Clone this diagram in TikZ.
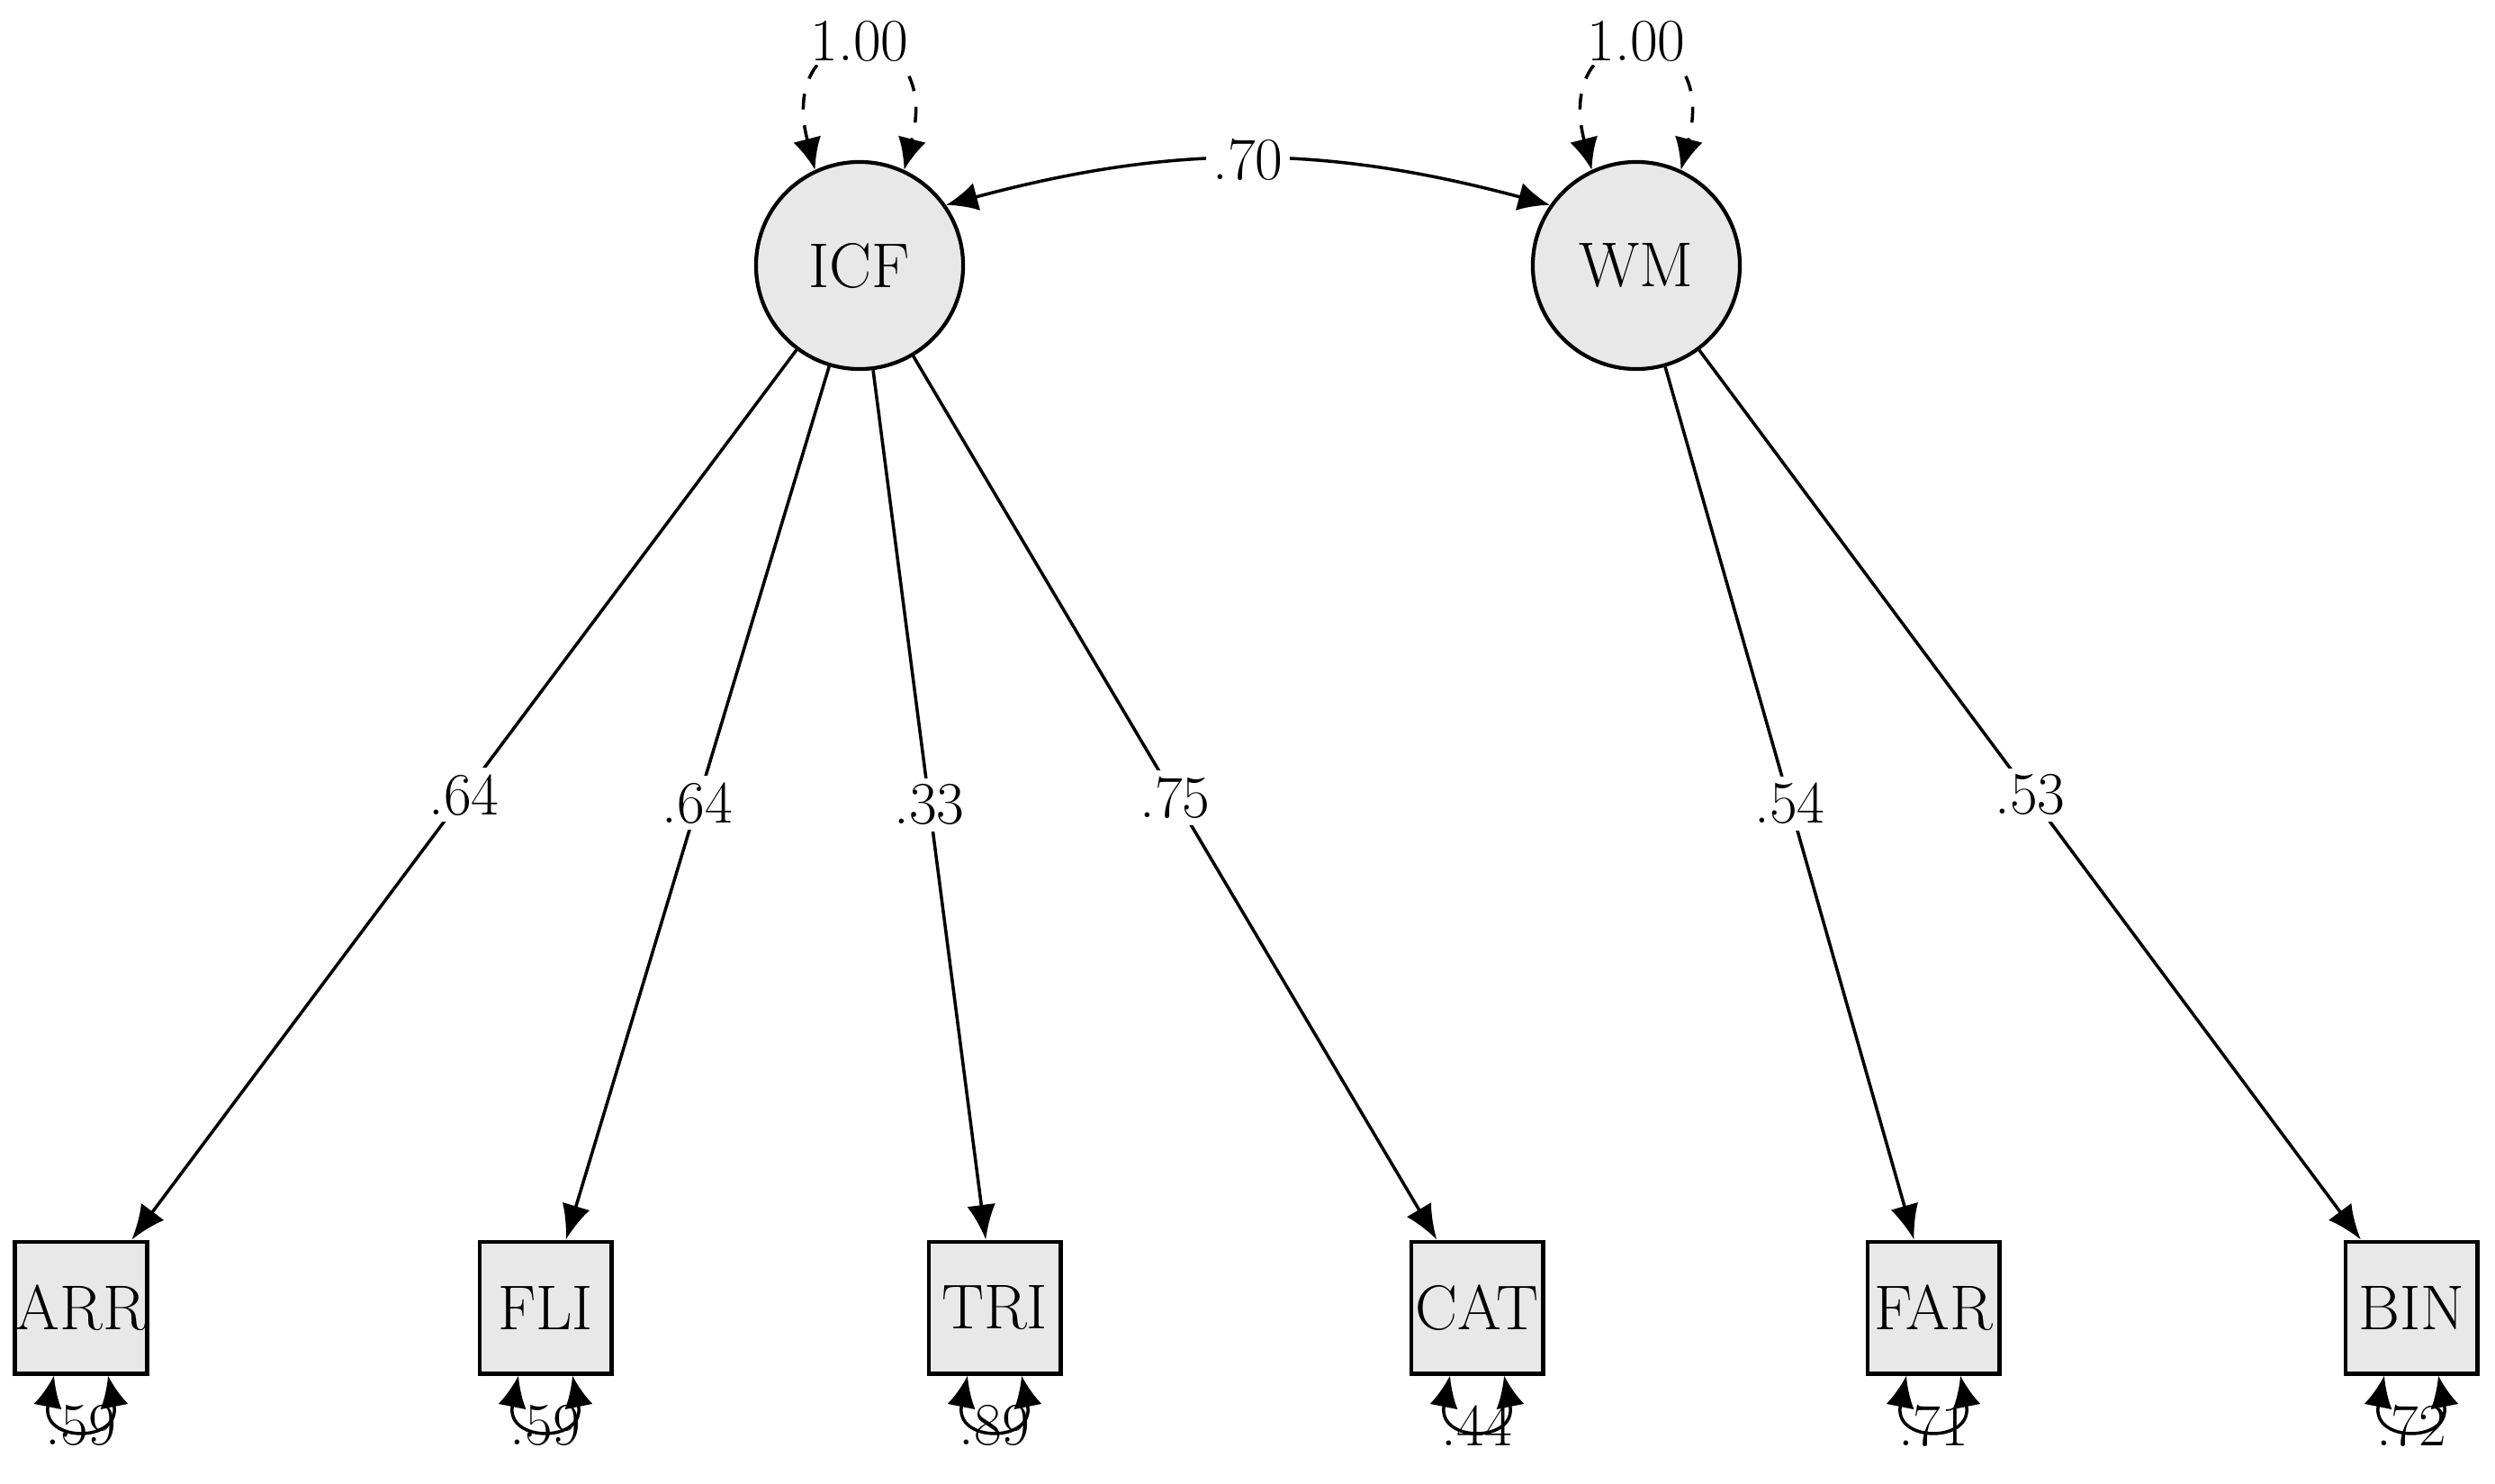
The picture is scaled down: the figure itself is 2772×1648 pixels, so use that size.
\documentclass[tikz,border=0pt]{standalone}
\usepackage{tikz}
\usetikzlibrary{arrows.meta}

\tikzset{
  latent/.style={circle, draw, line width=1.2pt, fill=gray!18, minimum size=2.3cm, inner sep=0pt, font=\fontsize{20}{24}\selectfont},
  manifest/.style={rectangle, draw, line width=1.4pt, fill=gray!18, minimum size=1.46cm, inner sep=0pt, font=\fontsize{20}{24}\selectfont},
  path/.style={line width=1pt, -{Latex[length=11pt,width=9pt]}},
  wlabel/.style={fill=white, inner sep=2pt, font=\fontsize{19}{22}\selectfont},
  var/.style={line width=1pt, {Latex[length=10pt,width=9pt]}-{Latex[length=10pt,width=9pt]}},
}

\begin{document}
\begin{tikzpicture}[x=0.01cm, y=-0.01cm]
\useasboundingbox (0,0) rectangle (2772,1648);

\node[latent] (ICF) at (955,295) {ICF};
\node[latent] (WM) at (1818,295) {WM};

\node[manifest] (ARR) at (90,1453) {ARR};
\node[manifest] (FLI) at (606,1453) {FLI};
\node[manifest] (TRI) at (1105,1453) {TRI};
\node[manifest] (CAT) at (1641,1453) {CAT};
\node[manifest] (FAR) at (2148,1453) {FAR};
\node[manifest] (BIN) at (2679,1453) {BIN};

% loadings
\draw[path] (ICF) -- (ARR) node[wlabel, pos=0.5] {.64};
\draw[path] (ICF) -- (FLI) node[wlabel, pos=0.5] {.64};
\draw[path] (ICF) -- (TRI) node[wlabel, pos=0.5] {.33};
\draw[path] (ICF) -- (CAT) node[wlabel, pos=0.5] {.75};
\draw[path] (WM) -- (FAR) node[wlabel, pos=0.5] {.54};
\draw[path] (WM) -- (BIN) node[wlabel, pos=0.5] {.53};

% covariance
\draw[var] (ICF.35) to[bend left=15] node[wlabel] {.70} (WM.145);

% factor variances
\foreach \f in {ICF, WM}
  \draw[var, dash pattern=on 5pt off 5pt] (\f.115) .. controls +(-45,-175) and +(45,-175) .. (\f.65)
    node[pos=0.5, yshift=0.12cm, fill=white, inner sep=1pt, font=\fontsize{19}{22}\selectfont] {1.00};

% error variances
\foreach \b/\v in {ARR/.59, FLI/.59, TRI/.89, CAT/.44, FAR/.71, BIN/.72}
  \draw[var] ([xshift=-0.3cm]\b.south) .. controls +(-15,75) and +(15,75) .. ([xshift=0.3cm]\b.south)
    node[pos=0.5, anchor=north, yshift=0.25cm, inner sep=0pt, font=\fontsize{19}{22}\selectfont] {\v};
\end{tikzpicture}
\end{document}
